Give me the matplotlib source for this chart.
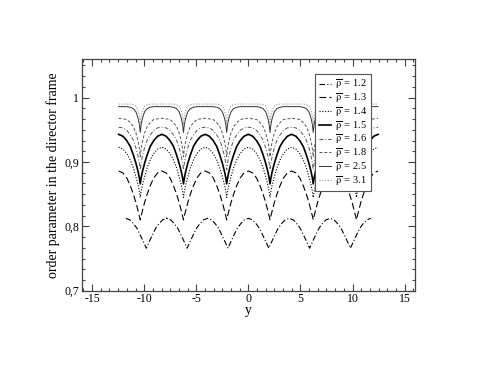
import numpy as np
import matplotlib
matplotlib.use("Agg")
import matplotlib.pyplot as plt
from matplotlib.ticker import MultipleLocator, AutoMinorLocator, FuncFormatter

# --- DATA ---
rho_values = ["1.2", "1.3", "1.4", "1.5", "1.6", "1.8", "2.5", "3.1"]

# each curve is periodic: a V-shaped dip followed by a rounded maximum.
# profile = value at a fraction of the half period, going from a dip to the next maximum
s_frac = [0.0, 0.04, 0.10, 0.20, 0.32, 0.46, 0.62, 0.80, 1.00]

dips_low = [-9.80, -5.88, -1.96, 1.96, 5.88, 9.80]        # rho = 1.2
half_low = 1.96
dips_high = [-10.38, -6.23, -2.08, 2.08, 6.23, 10.38]     # rho >= 1.3
half_high = 2.075

prof_12 = [0.766, 0.769, 0.773, 0.780, 0.788, 0.797, 0.804, 0.810, 0.8125]
prof_13 = [0.810, 0.816, 0.824, 0.837, 0.850, 0.863, 0.875, 0.883, 0.886]
prof_14 = [0.845, 0.854, 0.864, 0.877, 0.891, 0.903, 0.913, 0.920, 0.923]
prof_15 = [0.866, 0.875, 0.885, 0.898, 0.911, 0.924, 0.933, 0.940, 0.943]
prof_16 = [0.888, 0.898, 0.909, 0.922, 0.934, 0.942, 0.949, 0.953, 0.954]
prof_18 = [0.908, 0.920, 0.932, 0.945, 0.955, 0.961, 0.966, 0.967, 0.968]
prof_25 = [0.946, 0.958, 0.968, 0.978, 0.983, 0.985, 0.986, 0.986, 0.986]
prof_31 = [0.958, 0.971, 0.980, 0.987, 0.989, 0.990, 0.990, 0.990, 0.990]

profiles = [prof_12, prof_13, prof_14, prof_15, prof_16, prof_18, prof_25, prof_31]


def build_curve(dips, half, prof):
    """Repeat the measured dip profile around every dip position."""
    s = np.array(s_frac) * half
    p = np.array(prof)
    xs, ys = [], []
    for d in dips:
        xs.append(np.concatenate([d - s[::-1], d + s[1:]]))
        ys.append(np.concatenate([p[::-1], p[1:]]))
    return np.concatenate(xs), np.concatenate(ys)


# --- STYLE ---
plt.rcParams["font.family"] = ["Liberation Serif", "DejaVu Serif"]
plt.rcParams["mathtext.fontset"] = "stix"
plt.rcParams["mathtext.default"] = "rm"
plt.rcParams["axes.unicode_minus"] = False

line_styles = [
    dict(ls=(0, (5, 2, 1, 2)), color="black", lw=0.8),
    dict(ls=(0, (6, 3)), color="black", lw=0.8),
    dict(ls=(0, (1, 1.5)), color="black", lw=0.8),
    dict(ls="-", color="black", lw=1.2),
    dict(ls=(0, (4, 2, 1, 2)), color="#555555", lw=0.7),
    dict(ls=(0, (3, 2)), color="#555555", lw=0.7),
    dict(ls="-", color="#333333", lw=0.7),
    dict(ls=(0, (1, 1.5)), color="#999999", lw=0.8),
]

fig = plt.figure(figsize=(4.79, 3.70), dpi=100)
ax = fig.add_axes([0.1706, 0.2143, 0.6958, 0.6262])

for i, (rho, prof) in enumerate(zip(rho_values, profiles)):
    if i == 0:
        x, y = build_curve(dips_low, half_low, prof)
    else:
        x, y = build_curve(dips_high, half_high, prof)
    st = line_styles[i]
    ax.plot(x, y, linestyle=st["ls"], color=st["color"], lw=st["lw"],
            label=r"$\overline{\rho}\,$ = " + rho)

ax.set_xlim(-16, 16)
ax.set_ylim(0.7, 1.06)
ax.xaxis.set_major_locator(MultipleLocator(5))
ax.xaxis.set_minor_locator(AutoMinorLocator(6))
ax.yaxis.set_major_locator(MultipleLocator(0.1))
ax.yaxis.set_minor_locator(AutoMinorLocator(6))
ax.yaxis.set_major_formatter(FuncFormatter(lambda v, p: ("%g" % round(v, 2)).replace(".", ",")))
ax.xaxis.set_major_formatter(FuncFormatter(lambda v, p: "%d" % round(v)))

ax.tick_params(which="both", direction="in", top=True, right=True,
               color="#444444", labelsize=8.5, width=0.8, pad=2)
ax.tick_params(which="major", length=5)
ax.tick_params(which="minor", length=2.5)
for sp in ax.spines.values():
    sp.set_color("#444444")
    sp.set_linewidth(0.9)

ax.set_xlabel("y", fontsize=10, labelpad=-1)
ax.set_ylabel("order parameter in the director frame", fontsize=10, labelpad=3)

leg = ax.legend(loc="upper left", bbox_to_anchor=(0.70, 0.935), fontsize=7.5,
                frameon=True, fancybox=False, framealpha=1, edgecolor="#555555",
                handlelength=1.2, handletextpad=0.4, labelspacing=0.0,
                borderpad=0.35, borderaxespad=0)
leg.get_frame().set_linewidth(0.8)

plt.savefig("out.png", dpi=100)
plt.close()
